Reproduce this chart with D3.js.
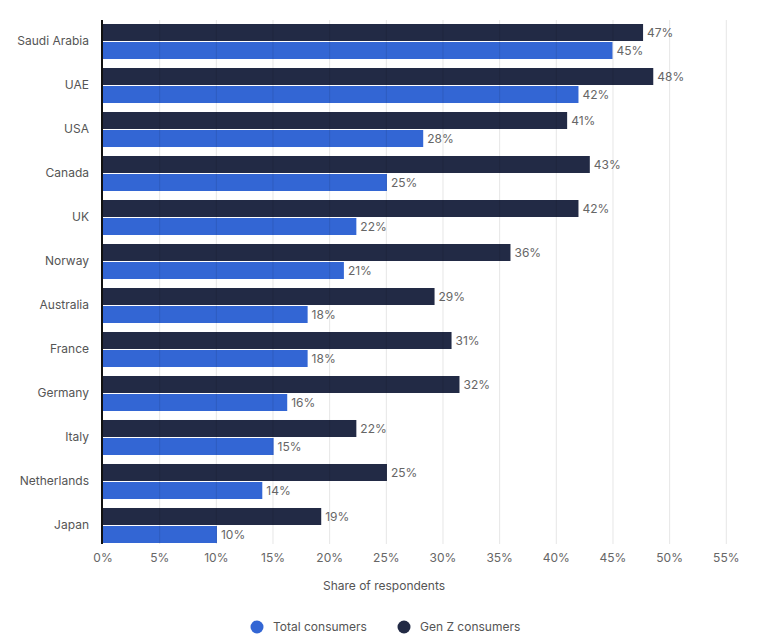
<!DOCTYPE html>
<html>
<head>
<meta charset="utf-8">
<script src="https://cdn.jsdelivr.net/npm/d3@7/dist/d3.min.js"></script>
<style>
  html, body { margin: 0; padding: 0; background: #fff; }
  svg { display: block; font-family: Inter, "Noto Sans", sans-serif; }
</style>
</head>
<body>
<svg id="chart" width="768" height="644"></svg>
<script>
const categories = ["Saudi Arabia", "UAE", "USA", "Canada", "UK", "Norway", "Australia", "France", "Germany", "Italy", "Netherlands", "Japan"];
const genZValues = [47.7, 48.6, 41.0, 43.0, 42.0, 36.0, 29.3, 30.8, 31.5, 22.4, 25.1, 19.3];
const totalValues = [45.0, 42.0, 28.3, 25.1, 22.4, 21.3, 18.1, 18.1, 16.3, 15.1, 14.1, 10.1];
const genZLabels = ["47%", "48%", "41%", "43%", "42%", "36%", "29%", "31%", "32%", "22%", "25%", "19%"];
const totalLabels = ["45%", "42%", "28%", "25%", "22%", "21%", "18%", "18%", "16%", "15%", "14%", "10%"];
const tickValues = [0, 5, 10, 15, 20, 25, 30, 35, 40, 45, 50, 55];
const seriesNames = ["Gen Z consumers", "Total consumers"];
const legendNames = ["Total consumers", "Gen Z consumers"];
const axisTitle = "Share of respondents";

const colors = { "Gen Z consumers": "#222a45", "Total consumers": "#3366d4" };

const svg = d3.select("#chart");
const x = d3.scaleLinear().domain([0, 55]).range([102.5, 725.8]);
const y = d3.scaleBand().domain(categories).range([19.5, 547.5]).paddingInner(0.2045).paddingOuter(0.1023);
const sub = d3.scaleBand().domain(seriesNames).range([0, y.bandwidth()]).paddingInner(0.0556);

const rows = categories.map((c, i) => ({
  cat: c,
  vals: [
    { s: "Gen Z consumers", v: genZValues[i], l: genZLabels[i] },
    { s: "Total consumers", v: totalValues[i], l: totalLabels[i] }
  ]
}));

// bars
const g = svg.append("g");
const grp = g.selectAll("g.row").data(rows).join("g")
  .attr("class", "row")
  .attr("transform", d => `translate(0,${y(d.cat)})`);
grp.selectAll("rect").data(d => d.vals).join("rect")
  .attr("x", x(0))
  .attr("y", d => sub(d.s))
  .attr("width", d => x(d.v) - x(0))
  .attr("height", sub.bandwidth())
  .attr("fill", d => colors[d.s]);
grp.selectAll("text").data(d => d.vals).join("text")
  .attr("x", d => x(d.v) + 4)
  .attr("y", d => sub(d.s) + sub.bandwidth() / 2)
  .attr("dy", "0.35em")
  .attr("font-size", 12)
  .attr("fill", "#666")
  .text(d => d.l);

// gridlines (drawn over bars, translucent)
const grid = svg.append("g")
  .attr("transform", "translate(0,544)")
  .call(d3.axisBottom(x).tickValues(tickValues).tickSize(-524).tickFormat(""));
grid.select(".domain").remove();
grid.selectAll(".tick line").attr("stroke", "#000").attr("stroke-opacity", 0.1);
grid.selectAll(".tick").filter(d => d === 0).remove();

// x axis labels
const xa = svg.append("g")
  .attr("transform", "translate(0,544)")
  .call(d3.axisBottom(x).tickValues(tickValues).tickSize(0).tickPadding(9).tickFormat(d => d + "%"));
xa.select(".domain").remove();
xa.selectAll("text").attr("font-size", 12).attr("fill", "#666").attr("font-family", "Inter, 'Noto Sans', sans-serif");

// y axis
const ya = svg.append("g")
  .attr("transform", `translate(${x(0) - 0.5},0)`)
  .call(d3.axisLeft(y).tickSize(0).tickPadding(13));
ya.select(".domain").remove();
ya.selectAll("text").attr("font-size", 12).attr("fill", "#555").attr("font-family", "Inter, 'Noto Sans', sans-serif");

svg.append("line")
  .attr("x1", x(0) - 0.5).attr("x2", x(0) - 0.5)
  .attr("y1", 20).attr("y2", 544)
  .attr("stroke", "#111").attr("stroke-width", 2);

// axis title
svg.append("text")
  .attr("x", 384).attr("y", 590)
  .attr("text-anchor", "middle")
  .attr("font-size", 12)
  .attr("fill", "#555")
  .text(axisTitle);

// legend
const legendX = [257, 404];
const lg = svg.append("g").selectAll("g").data(legendNames).join("g")
  .attr("transform", (d, i) => `translate(${legendX[i]},627)`);
lg.append("circle").attr("r", 6.5).attr("fill", d => colors[d]);
lg.append("text").attr("x", 16).attr("dy", "0.35em")
  .attr("font-size", 12).attr("fill", "#555").text(d => d);
</script>
</body>
</html>
